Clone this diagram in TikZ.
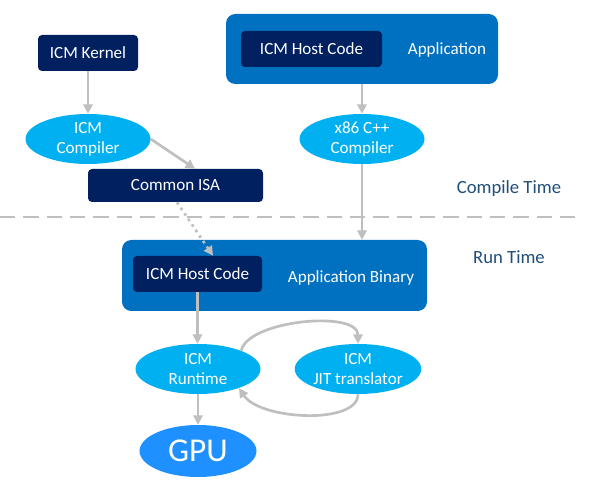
\documentclass[tikz,border=0pt]{standalone}
\usepackage{fontspec}
\setmainfont{Carlito}
\usepackage{xcolor}
\usetikzlibrary{arrows.meta,shapes.geometric,positioning,calc}

\definecolor{navy}{HTML}{002060}
\definecolor{appblue}{HTML}{0070C0}
\definecolor{skyblue}{HTML}{00B0F0}
\definecolor{gpublue}{HTML}{1E90FF}
\definecolor{flowgray}{HTML}{BFBFBF}
\definecolor{labelblue}{HTML}{1F4E79}

\tikzset{
	kbox/.style={fill=navy, text=white, rounded corners=3pt, inner sep=0pt, font=\fontsize{12.8}{14}\selectfont},
	outerbox/.style={fill=appblue, rounded corners=7pt, inner sep=0pt},
	oval/.style={ellipse, fill=skyblue, text=white, inner sep=0pt, align=center,
		minimum width=93.75pt, minimum height=37.5pt, font=\fontsize{12.8}{15}\selectfont},
	flow/.style={draw=flowgray, line width=2pt, -{Triangle[length=7pt,width=7pt]}},
	phase/.style={text=labelblue, font=\fontsize{14}{16}\selectfont}
}

\begin{document}
\begin{tikzpicture}[x=0.75pt,y=-0.75pt]
		\useasboundingbox (0,0) rectangle (594,492);

		% compile time
		\node[kbox, minimum width=75pt, minimum height=27pt] (kernel) at (88,53) {ICM Kernel};
		\node[oval] (icmcomp) at (88,139) {ICM\\Compiler};
		\node[kbox, minimum width=131.25pt, minimum height=24.75pt] (isa) at (175.5,185.5) {Common ISA};

		\node[outerbox, minimum width=204pt, minimum height=52.5pt] (app) at (362,49) {};
		\node[kbox, minimum width=105.75pt, minimum height=27pt] (hosttop) at (311.5,49) {ICM Host Code};
		\node[text=white, font=\fontsize{12.8}{14}\selectfont] (applabel) at (447,50) {Application};
		\node[oval] (x86) at (362,139) {x86 C++\\Compiler};

		\node[phase] (compiletime) at (509,189) {Compile Time};
		\draw[flowgray, line width=2pt, dash pattern=on 11.5pt off 6pt] (0,217) -- (577,217);
		\node[phase] (runtime) at (509,257) {Run Time};

		% run time
		\node[outerbox, minimum width=228.75pt, minimum height=53.25pt] (appbin) at (274.5,275.5) {};
		\node[kbox, minimum width=96.75pt, minimum height=27pt] (hostbot) at (197.5,274) {ICM Host Code};
		\node[text=white, font=\fontsize{12.8}{14}\selectfont] (binlabel) at (351,278) {Application Binary};
		\node[oval] (rt) at (198,369) {ICM\\Runtime};
		\node[oval] (jit) at (358,369) {ICM\\JIT translator};
		\node[ellipse, fill=gpublue, text=white, inner sep=0pt, minimum width=87.75pt, minimum height=39pt,
			font=\fontsize{25}{28}\selectfont] (gpu) at (198,451) {GPU};

		% arrows
		\draw[flow] (kernel) -- (icmcomp);
		\draw[flow] (icmcomp.east) -- ($(isa.north)+(19.5,0)$);
		\draw[flow, dash pattern=on 2pt off 3pt] ($(isa.south)+(1.5,0)$) -- ($(hostbot.north)+(15.5,0)$);
		\draw[flow] (app) -- (x86);
		\draw[flow] (x86) -- (x86 |- appbin.north);
		\draw[flow] (hostbot) -- (hostbot |- rt.north);
		\draw[flow] (rt.23) .. controls (248,320) and (358,310) .. (jit.north);
		\draw[flow] (jit.south) .. controls (358,425) and (260,420) .. (rt.-25);
		\draw[flow] (rt) -- (gpu);
	\end{tikzpicture}
\end{document}
